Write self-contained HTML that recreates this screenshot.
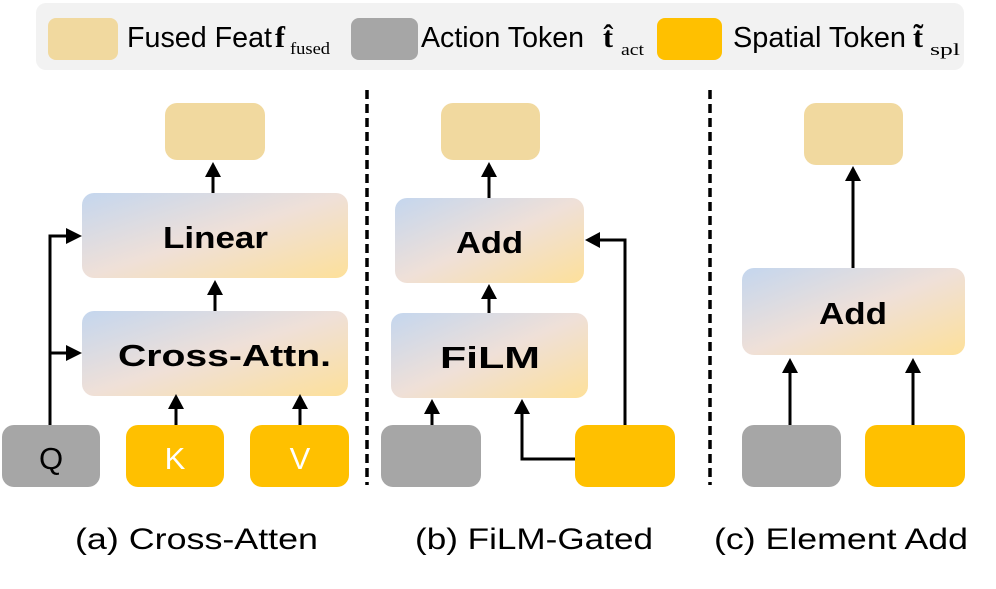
<!DOCTYPE html>
<html><head><style>body{margin:0;background:#fff}</style></head><body>
<svg width="996" height="584" viewBox="0 0 996 584" xmlns="http://www.w3.org/2000/svg" font-family="Liberation Sans, sans-serif">
<defs>
<linearGradient id="g" x1="0" y1="0" x2="1" y2="1">
<stop offset="0" stop-color="#c4d6ee"/><stop offset="0.5" stop-color="#efe0d8"/><stop offset="1" stop-color="#fde09a"/>
</linearGradient>
</defs>
<rect x="36" y="3" width="928" height="67" rx="10" fill="#f2f2f2"/>
<rect x="48" y="18" width="70" height="42" rx="8" fill="#f1d99f"/>
<text x="127" y="47" font-size="29" textLength="145" lengthAdjust="spacingAndGlyphs">Fused Feat</text>
<text x="275" y="47" font-size="30" font-family="Liberation Serif" font-weight="bold">f</text>
<text x="290" y="54" font-size="17" font-family="Liberation Serif" textLength="40" lengthAdjust="spacingAndGlyphs">fused</text>
<rect x="351" y="18" width="67" height="42" rx="8" fill="#a6a6a6"/>
<text x="421" y="47" font-size="29" textLength="163" lengthAdjust="spacingAndGlyphs">Action Token</text>
<text x="603" y="47" font-size="30" font-family="Liberation Serif" font-weight="bold">t̂</text>
<text x="621" y="55" font-size="17" font-family="Liberation Serif" textLength="23" lengthAdjust="spacingAndGlyphs">act</text>
<rect x="657" y="18" width="65" height="42" rx="8" fill="#ffc000"/>
<text x="733" y="47" font-size="29" textLength="173" lengthAdjust="spacingAndGlyphs">Spatial Token</text>
<text x="913" y="47" font-size="30" font-family="Liberation Serif" font-weight="bold">t̃</text>
<text x="930" y="55" font-size="17" font-family="Liberation Serif" textLength="30" lengthAdjust="spacingAndGlyphs">spl</text>
<line x1="367" y1="90" x2="367" y2="485" stroke="#000" stroke-width="3.5" stroke-dasharray="9,5"/>
<line x1="710" y1="90" x2="710" y2="485" stroke="#000" stroke-width="3.5" stroke-dasharray="9,5"/>
<!-- panel a -->
<rect x="165" y="103" width="100" height="57" rx="12" fill="#f1d99f"/>
<rect x="82" y="193" width="266" height="85" rx="12" fill="url(#g)"/>
<text x="163" y="248" font-size="31" font-weight="bold" textLength="105" lengthAdjust="spacingAndGlyphs">Linear</text>
<rect x="82" y="311" width="266" height="85" rx="12" fill="url(#g)"/>
<text x="118" y="366" font-size="31" font-weight="bold" textLength="213" lengthAdjust="spacingAndGlyphs">Cross-Attn.</text>
<rect x="2" y="425" width="98" height="62" rx="12" fill="#a6a6a6"/>
<text x="51" y="469" font-size="31" text-anchor="middle">Q</text>
<rect x="126" y="425" width="98" height="62" rx="12" fill="#ffc000"/>
<text x="175" y="469" font-size="31" text-anchor="middle" fill="#fff">K</text>
<rect x="250" y="425" width="99" height="62" rx="12" fill="#ffc000"/>
<text x="300" y="469" font-size="31" text-anchor="middle" fill="#fff">V</text>
<g stroke="#000" stroke-width="3" fill="none">
<polyline points="50,425 50,236 66,236"/><line x1="50" y1="353" x2="66" y2="353"/>
<line x1="176" y1="425" x2="176" y2="408"/><line x1="300" y1="425" x2="300" y2="408"/>
<line x1="215" y1="311" x2="215" y2="294"/><line x1="213" y1="193" x2="213" y2="176"/>
<line x1="489" y1="198" x2="489" y2="176"/><line x1="489" y1="313" x2="489" y2="298"/>
<line x1="432" y1="425" x2="432" y2="413"/>
<polyline points="575,459 522,459 522,413"/>
<polyline points="625,425 625,240 600,240"/>
<line x1="790" y1="425" x2="790" y2="372"/><line x1="913" y1="425" x2="913" y2="372"/>
<line x1="853" y1="268" x2="853" y2="180"/>
</g>
<g fill="#000">
<path d="M66,228 L82,236 L66,244Z"/><path d="M66,345 L82,353 L66,361Z"/>
<path d="M168,409 L176,394 L184,409Z"/><path d="M292,409 L300,394 L308,409Z"/>
<path d="M207,295 L215,280 L223,295Z"/><path d="M205,177 L213,162 L221,177Z"/>
<path d="M481,177 L489,162 L497,177Z"/><path d="M481,299 L489,284 L497,299Z"/>
<path d="M424,414 L432,399 L440,414Z"/><path d="M514,414 L522,399 L530,414Z"/>
<path d="M600,232 L585,240 L600,248Z"/>
<path d="M782,373 L790,358 L798,373Z"/><path d="M905,373 L913,358 L921,373Z"/>
<path d="M845,181 L853,166 L861,181Z"/>
</g>
<!-- panel b -->
<rect x="441" y="103" width="99" height="57" rx="12" fill="#f1d99f"/>
<rect x="395" y="198" width="189" height="85" rx="12" fill="url(#g)"/>
<text x="456" y="253" font-size="31" font-weight="bold" textLength="67" lengthAdjust="spacingAndGlyphs">Add</text>
<rect x="391" y="313" width="197" height="85" rx="12" fill="url(#g)"/>
<text x="440" y="368" font-size="31" font-weight="bold" textLength="100" lengthAdjust="spacingAndGlyphs">FiLM</text>
<rect x="381" y="425" width="100" height="62" rx="12" fill="#a6a6a6"/>
<rect x="575" y="425" width="100" height="62" rx="12" fill="#ffc000"/>
<!-- panel c -->
<rect x="804" y="103" width="99" height="62" rx="12" fill="#f1d99f"/>
<rect x="742" y="268" width="223" height="87" rx="12" fill="url(#g)"/>
<text x="819" y="324" font-size="31" font-weight="bold" textLength="68" lengthAdjust="spacingAndGlyphs">Add</text>
<rect x="742" y="425" width="99" height="62" rx="12" fill="#a6a6a6"/>
<rect x="865" y="425" width="100" height="62" rx="12" fill="#ffc000"/>
<text x="75" y="549" font-size="30" textLength="243" lengthAdjust="spacingAndGlyphs">(a) Cross-Atten</text>
<text x="415" y="549" font-size="30" textLength="238" lengthAdjust="spacingAndGlyphs">(b) FiLM-Gated</text>
<text x="714" y="549" font-size="30" textLength="254" lengthAdjust="spacingAndGlyphs">(c) Element Add</text>
</svg>
</body></html>
